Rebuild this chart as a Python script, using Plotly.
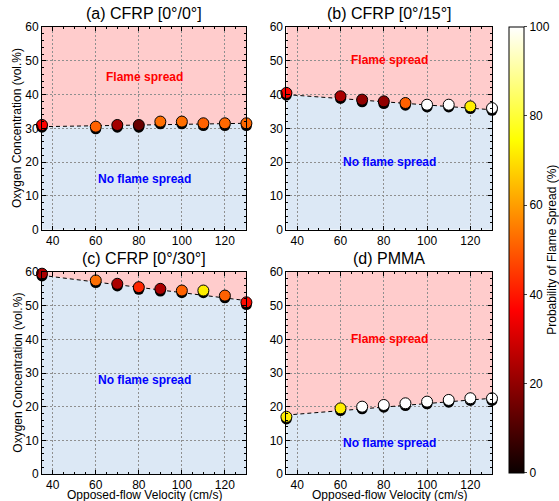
import plotly.graph_objects as go

# ---------------- data ----------------
velocity = [35, 60, 70, 80, 90, 100, 110, 120, 130]

panel_titles = ["(a) CFRP [0°/0°]", "(b) CFRP [0°/15°]", "(c) CFRP [0°/30°]", "(d) PMMA"]

oxygen_a = [31.0, 30.5, 31.0, 31.0, 32.0, 32.0, 31.5, 31.5, 31.5]
oxygen_b = [40.5, 39.5, 38.5, 38.0, 37.5, 37.0, 37.0, 36.5, 36.0]
oxygen_c = [59.5, 57.5, 56.5, 55.5, 55.0, 54.5, 54.5, 53.0, 51.0]
oxygen_d = [17.0, 19.5, 20.0, 20.5, 21.0, 21.5, 22.0, 22.5, 22.5]

prob_a = [37, 51, 23, 14, 53, 53, 51, 52, 52]
prob_b = [37, 24, 20, 20, 51, 100, 100, 72, 100]
prob_c = [24, 53, 24, 42, 24, 51, 72, 51, 38]
prob_d = [72, 72, 100, 100, 100, 100, 100, 100, 100]

# boundary (dashed line) at start / end velocity
boundary_start = [30.5, 40.0, 59.0, 17.5]
boundary_end = [31.5, 35.5, 51.5, 22.5]

# label positions (y) : None = no label
flame_label_y = [45.3, 50.1, None, 40.0]
noflame_label_y = [15.1, 20.0, 28.0, 9.2]

oxygen_all = [oxygen_a, oxygen_b, oxygen_c, oxygen_d]
prob_all = [prob_a, prob_b, prob_c, prob_d]

x_range = [35, 130]
y_range = [0, 60]

# ---------------- style ----------------
FONT = "Arial, Liberation Sans, sans-serif"
W, H = 559, 501
hot = [[0.0, "rgb(10,0,0)"], [0.365, "rgb(255,0,0)"],
       [0.746, "rgb(255,255,0)"], [1.0, "rgb(255,255,255)"]]
pink = "#ffcccc"
blue = "#dce8f5"
gridc = "#8f8f8f"

# plot-area frame in pixels
ML, MR, MT, MB = 42.3, 492.3, 27.3, 474.3
PW, PH = MR - ML, MB - MT

def fx(px):
    return (px - ML) / PW

def fy(py):
    return (MB - py) / PH

# plot area pixel boxes: (left, right, top, bottom)
boxes = [(42.3, 246.7, 27.3, 230.0), (286.7, 492.3, 27.3, 230.0),
         (42.3, 246.7, 272.3, 474.3), (286.7, 492.3, 272.3, 474.3)]

fig = go.Figure()
shadow_dy = (y_range[1] - y_range[0]) / 202.0 * 2.2  # ~2px shadow

for i in range(4):
    l, r, t, b = boxes[i]
    xa = "xaxis" if i == 0 else f"xaxis{i+1}"
    ya = "yaxis" if i == 0 else f"yaxis{i+1}"
    xref = "x" if i == 0 else f"x{i+1}"
    yref = "y" if i == 0 else f"y{i+1}"
    fig.layout[xa] = dict(
        domain=[max(0, fx(l)), min(1, fx(r))], anchor=yref, range=x_range,
        tick0=40, dtick=20, ticks="inside", ticklen=4, tickcolor="black",
        minor=dict(dtick=5, ticks="inside", ticklen=2, tickcolor="black", showgrid=False),
        showline=True, mirror="ticks", linecolor="black", linewidth=1,
        showgrid=True, gridcolor=gridc, griddash="2px,2px", gridwidth=1,
        zeroline=False, tickfont=dict(size=12, family=FONT, color="black"),
        automargin=False,
    )
    fig.layout[ya] = dict(
        domain=[max(0, fy(b)), min(1, fy(t))], anchor=xref, range=y_range,
        dtick=10, ticks="inside", ticklen=4, tickcolor="black",
        minor=dict(dtick=2, ticks="inside", ticklen=2, tickcolor="black", showgrid=False),
        showline=True, mirror="ticks", linecolor="black", linewidth=1,
        showgrid=True, gridcolor=gridc, griddash="2px,2px", gridwidth=1,
        zeroline=False, tickfont=dict(size=12, family=FONT, color="black"),
        automargin=False,
    )

    x0, x1 = x_range
    s, e = boundary_start[i], boundary_end[i]
    fig.add_shape(type="path", xref=xref, yref=yref, layer="below",
                  path=f"M {x0},{y_range[0]} L {x0},{s} L {x1},{e} L {x1},{y_range[0]} Z",
                  fillcolor=blue, line=dict(width=0))
    fig.add_shape(type="path", xref=xref, yref=yref, layer="below",
                  path=f"M {x0},{y_range[1]} L {x0},{s} L {x1},{e} L {x1},{y_range[1]} Z",
                  fillcolor=pink, line=dict(width=0))

    # dashed boundary line
    fig.add_trace(go.Scatter(x=x_range, y=[s, e], mode="lines", xaxis=xref, yaxis=yref,
                             line=dict(color="black", width=1, dash="4px,3px"),
                             showlegend=False, hoverinfo="skip", cliponaxis=False))
    # shadow
    fig.add_trace(go.Scatter(x=velocity, y=[v - shadow_dy for v in oxygen_all[i]],
                             mode="markers", xaxis=xref, yaxis=yref, cliponaxis=False,
                             marker=dict(size=11, color="black", line=dict(width=0)),
                             showlegend=False, hoverinfo="skip"))
    # data markers
    fig.add_trace(go.Scatter(
        x=velocity, y=oxygen_all[i], mode="markers", xaxis=xref, yaxis=yref,
        cliponaxis=False, showlegend=False,
        marker=dict(size=11, color=prob_all[i], colorscale=hot, cmin=0, cmax=100,
                    line=dict(color="black", width=1),
                    showscale=(i == 0),
                    colorbar=dict(
                        x=fx(509), xanchor="left", xref="paper", xpad=0,
                        y=fy(473), yanchor="bottom", ypad=0,
                        len=(473 - 27) / PH, lenmode="fraction",
                        thickness=15, outlinewidth=1, outlinecolor="black",
                        tickvals=[0, 20, 40, 60, 80, 100], ticks="outside", ticklen=3,
                        tickfont=dict(size=12, family=FONT, color="black"),
                        title=dict(text="Probability of Flame Spread (%)", side="right",
                                   font=dict(size=12, family=FONT, color="black")),
                    ))))

    # title
    fig.add_annotation(text=panel_titles[i], xref="paper", yref="paper",
                       x=fx((l + r) / 2), y=fy(t - 3), xanchor="center", yanchor="bottom",
                       showarrow=False, font=dict(size=16, family=FONT, color="black"))
    # axis titles
    if i % 2 == 0:
        fig.add_annotation(text="Oxygen Concentration (vol.%)", xref="paper", yref="paper",
                           x=fx(18), y=fy((t + b) / 2), xanchor="center", yanchor="middle",
                           textangle=-90, showarrow=False,
                           font=dict(size=12, family=FONT, color="black"))
    if i >= 2:
        fig.add_annotation(text="Opposed-flow Velocity (cm/s)", xref="paper", yref="paper",
                           x=fx((l + r) / 2), y=fy(495), xanchor="center", yanchor="middle",
                           showarrow=False,
                           font=dict(size=12, family=FONT, color="black"))
    # region labels
    if flame_label_y[i] is not None:
        fig.add_annotation(text="<b>Flame spread</b>", xref=xref, yref=yref,
                           x=(x0 + x1) / 2, y=flame_label_y[i], showarrow=False,
                           font=dict(size=12, family=FONT, color="#ff0000"))
    fig.add_annotation(text="<b>No flame spread</b>", xref=xref, yref=yref,
                       x=(x0 + x1) / 2, y=noflame_label_y[i], showarrow=False,
                       font=dict(size=12, family=FONT, color="#0000ff"))

fig.update_layout(width=W, height=H,
                  margin=dict(l=ML, r=W - MR, t=MT, b=H - MB, pad=0, autoexpand=False),
                  paper_bgcolor="white", plot_bgcolor="white",
                  font=dict(family=FONT, size=12, color="black"))

fig.write_html("out.html")
